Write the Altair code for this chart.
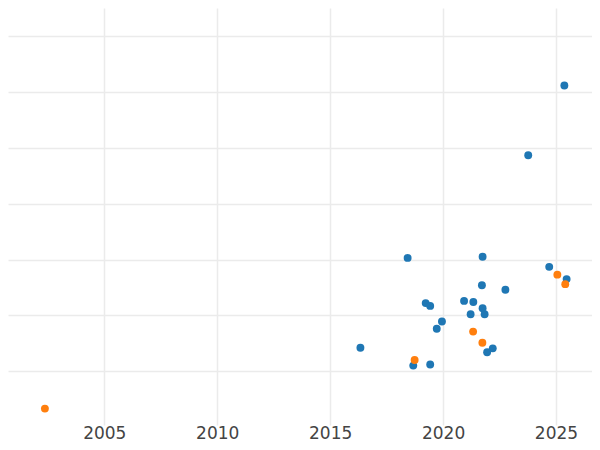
import altair as alt
import pandas as pd

# Series A (blue)
a_year = [2018.43, 2019.23, 2019.43, 2019.95, 2019.72, 2016.34, 2018.68, 2019.43,
          2020.93, 2021.75, 2024.70, 2025.47, 2021.72, 2022.76, 2021.34, 2021.75,
          2021.22, 2021.84, 2022.20, 2021.95, 2025.37, 2023.77]
a_value = [3.03, 2.22, 2.17, 1.89, 1.76, 1.42, 1.10, 1.12,
           2.26, 3.05, 2.87, 2.65, 2.54, 2.46, 2.24, 2.13,
           2.02, 2.02, 1.41, 1.34, 6.12, 4.87]

# Series B (orange)
b_year = [2018.74, 2025.06, 2025.41, 2021.33, 2021.74, 2002.37]
b_value = [1.20, 2.73, 2.56, 1.71, 1.51, 0.33]

series_names = ["A", "B"]
series_colors = ["#1f77b4", "#ff7f0e"]
x_ticks = [2005, 2010, 2015, 2020, 2025]
y_ticks = [1, 2, 3, 4, 5, 6, 7]

df = pd.DataFrame({
    "year": a_year + b_year,
    "value": a_value + b_value,
    "series": [series_names[0]] * len(a_year) + [series_names[1]] * len(b_year),
})

chart = alt.Chart(df).mark_circle(size=62, opacity=1).encode(
    x=alt.X("year:Q", title=None,
            scale=alt.Scale(domain=[2000.736, 2026.594], nice=False, zero=False),
            axis=alt.Axis(values=x_ticks, format="d", domain=False, ticks=False, tickSize=0,
                          labelPadding=0, labelFontSize=17, labelFont="DejaVu Sans",
                          labelColor="#444444", gridColor="#ebebeb", gridWidth=1.5)),
    y=alt.Y("value:Q", title=None,
            scale=alt.Scale(domain=[0.036, 7.508], nice=False, zero=False),
            axis=alt.Axis(values=y_ticks, labels=False, domain=False, ticks=False, tickSize=0,
                          minExtent=0, gridColor="#ebebeb", gridWidth=1.5)),
    color=alt.Color("series:N", legend=None,
                    scale=alt.Scale(domain=series_names, range=series_colors)),
    order=alt.Order("series:N", sort="ascending"),
).properties(
    width=584, height=417,
    padding={"left": 0, "top": 0, "right": 0, "bottom": 0},
).configure_view(stroke=None)

chart.save("out.html", embed_options={"renderer": "svg", "actions": False})
